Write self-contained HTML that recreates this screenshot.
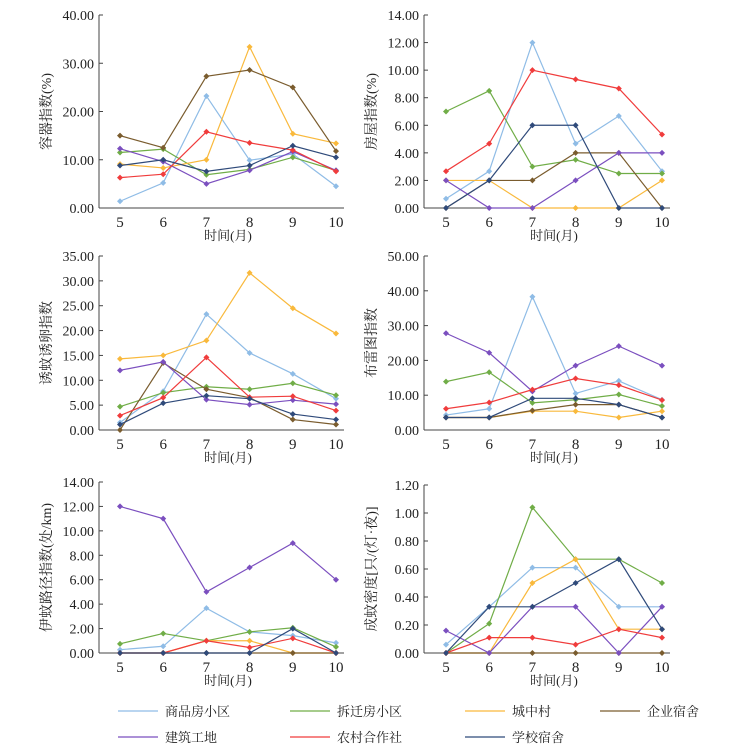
<!DOCTYPE html>
<html><head><meta charset="utf-8"><style>
body{margin:0;background:#fff;}
svg text{font-family:"Liberation Serif","Noto Serif CJK SC",serif;fill:#222;}
</style></head><body>
<svg id="chart" width="740" height="747" xmlns="http://www.w3.org/2000/svg"></svg>
<script>
const months = [5,6,7,8,9,10];
const seriesNames = ["商品房小区","拆迁房小区","城中村","企业宿舍","建筑工地","农村合作社","学校宿舍"];
const colors = ["#8fbce6","#70ad47","#f9b93c","#7a5c2e","#7b4fbf","#f03c3c","#2f4a7a"];
const titles = ["容器指数(%)","房屋指数(%)","诱蚊诱卵指数","布雷图指数","伊蚊路径指数(处/km)","成蚊密度[只/(灯·夜)]"];
const yMaxes = [40,14,35,50,14,1.2];
const yTickStep = [10,2,5,10,2,0.2];
const p1 = [[1.4,5.2,23.2,9.9,11.2,4.5],[11.5,12.2,6.9,8,10.5,7.8],[9.1,8.3,10,33.4,15.4,13.4],[15,12.5,27.3,28.6,25,11.8],[12.3,9.6,5,7.8,11.7,7.8],[6.3,7,15.8,13.5,12,7.6],[8.8,10,7.6,8.8,12.9,10.5]];
const p2 = [[0.67,2.67,12,4.67,6.67,2.67],[7,8.5,3,3.5,2.5,2.5],[2,2,0,0,0,2],[0,2,2,4,4,0],[2,0,0,2,4,4],[2.67,4.67,10,9.33,8.67,5.33],[0,2,6,6,0,0]];
const p3 = [[1.5,7.8,23.3,15.5,11.3,6.3],[4.7,7.5,8.7,8.2,9.4,7],[14.3,15,18,31.6,24.5,19.4],[0,13.5,8.2,6.5,2.1,1.1],[12,13.7,6.1,5.1,6,5.2],[2.9,6.5,14.6,6.6,6.8,3.9],[1.1,5.4,6.9,6.3,3.2,2.1]];
const p4 = [[4.3,6.1,38.3,10.5,14.1,8.7],[13.9,16.6,7.8,8.7,10.2,6.9],[3.6,3.6,5.4,5.4,3.6,5.4],[3.6,3.6,5.6,7.3,7.3,3.6],[27.8,22.2,11.1,18.5,24.1,18.5],[6.1,7.9,11.6,14.8,12.9,8.6],[3.6,3.6,9.1,9.1,7.3,3.6]];
const p5 = [[0.27,0.55,3.67,1.73,1.42,0.83],[0.75,1.6,1,1.73,2.07,0.5],[0,0,1,1,0,0],[0,0,0,0,0,0],[12,11,5,7,9,6],[0,0,1,0.45,1.2,0],[0,0,0,0,2,0]];
const p6 = [[0.06,0.33,0.61,0.61,0.33,0.33],[0,0.21,1.04,0.67,0.67,0.5],[0,0,0.5,0.67,0.17,0.17],[0,0,0,0,0,0],[0.16,0,0.33,0.33,0,0.33],[0,0.11,0.11,0.06,0.17,0.11],[0,0.33,0.33,0.5,0.67,0.17]];
const panelData = [p1,p2,p3,p4,p5,p6];
const NS="http://www.w3.org/2000/svg";
const svg=document.getElementById('chart');
function mk(tag,attrs,parent){const e=document.createElementNS(NS,tag);for(const k in attrs)e.setAttribute(k,attrs[k]);(parent||svg).appendChild(e);return e;}
const geo=[{ax:99,x0:120,x1:336,yt:15,yb:208},{ax:424,x0:446,x1:662,yt:15,yb:208},
{ax:99,x0:120,x1:336,yt:256,yb:430},{ax:424,x0:446,x1:662,yt:256,yb:430},
{ax:99,x0:120,x1:336,yt:482,yb:653},{ax:424,x0:446,x1:662,yt:485,yb:653}];
panelData.forEach((data,pi)=>{
  const g=geo[pi];
  const grp=mk('g',{});
  
  
  const xS=m=>g.x0+(m-5)*(g.x1-g.x0)/5;
  const yS=v=>g.yb-v*(g.yb-g.yt)/yMaxes[pi];
  const yax=mk('line',{x1:g.ax,y1:g.yt,x2:g.ax,y2:g.yb,stroke:'#444','stroke-width':1},grp);
  
  
  const xax=mk('line',{x1:g.ax,y1:g.yb,x2:g.x1+8,y2:g.yb,stroke:'#444','stroke-width':1},grp);
  
  
  const n=Math.round(yMaxes[pi]/yTickStep[pi]);
  for(let i=0;i<=n;i++){const v=i*yTickStep[pi];const y=yS(v);
    mk('line',{x1:g.ax,y1:y,x2:g.ax+4,y2:y,stroke:'#444'},grp);
    const t=mk('text',{x:g.ax-5,y:y+5,'text-anchor':'end','font-size':14},grp);t.textContent=v.toFixed(2);
    
    }
  months.forEach(m=>{const t=mk('text',{x:xS(m),y:g.yb+19,'text-anchor':'middle','font-size':15},grp);t.textContent=m;
    
    });
  const xt=mk('text',{x:(g.x0+g.x1)/2,y:g.yb+32,'text-anchor':'middle','font-size':13},grp);xt.textContent='时间(月)';
  
  
  const cy=(g.yt+g.yb)/2, cx=g.ax-48;
  const yt=mk('text',{x:cx,y:cy,'text-anchor':'middle','font-size':14,transform:`rotate(-90 ${cx} ${cy})`},grp);yt.textContent=titles[pi];
  
  
  data.forEach((vals,si)=>{
    const pts=vals.map((v,i)=>xS(months[i])+','+yS(v)).join(' ');
    const pl=mk('polyline',{points:pts,fill:'none',stroke:colors[si],'stroke-width':1.2},grp);
    
    
    vals.forEach((v,i)=>{const x=xS(months[i]),y=yS(v);
      const d=mk('polygon',{points:`${x},${y-3} ${x+3},${y} ${x},${y+3} ${x-3},${y}`,fill:colors[si]},grp);
      
      });
  });
});
const legendPos=[[118,711],[290,711],[465,711],[600,711],[118,737],[290,737],[465,737]];
seriesNames.forEach((nm,i)=>{
  const [x,y]=legendPos[i];
  const g=mk('g',{});
  
  
  mk('line',{x1:x,y1:y,x2:x+40,y2:y,stroke:colors[i],'stroke-width':1.2},g);
  const t=mk('text',{x:x+47,y:y+5,'font-size':13},g);t.textContent=nm;
});
</script>
</body></html>
